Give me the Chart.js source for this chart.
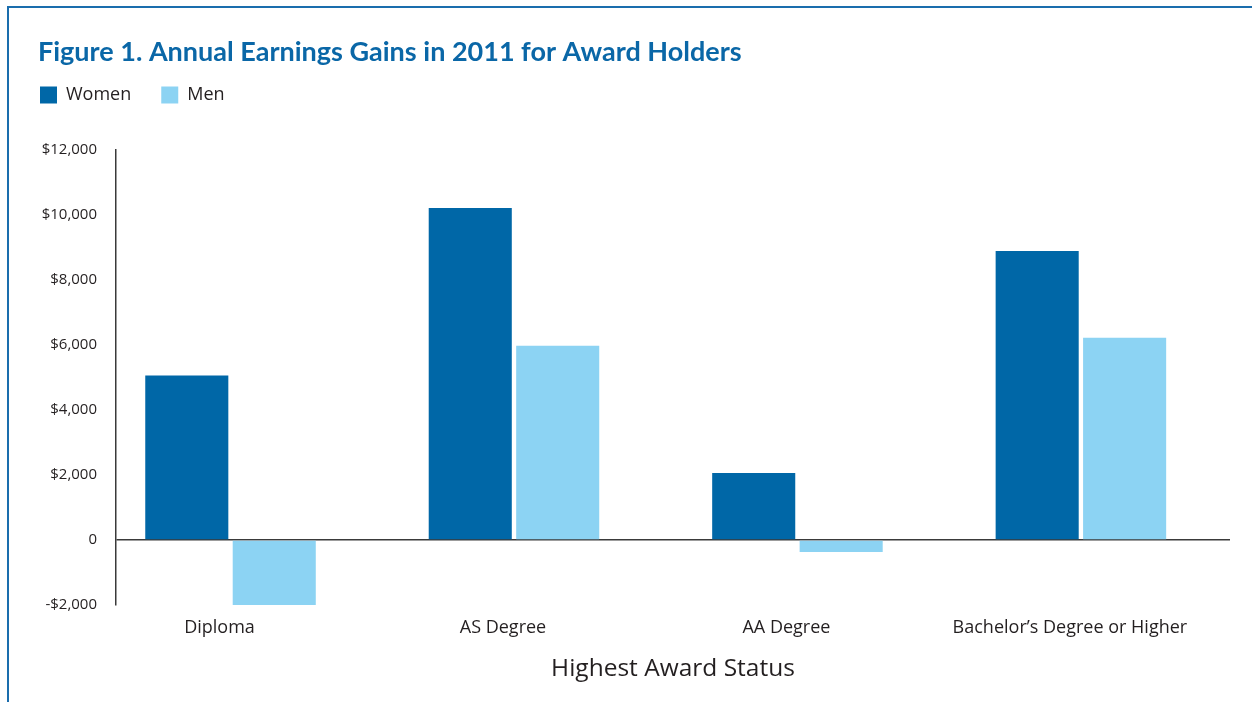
<!DOCTYPE html>
<html><head><meta charset="utf-8">
<script src="https://cdn.jsdelivr.net/npm/chart.js@4"></script>
<style>
html,body{margin:0;padding:0;background:#fff;}
#wrap{position:relative;width:1252px;height:702px;overflow:hidden;background:#fff;}
#frame{position:absolute;left:7px;top:6px;width:1300px;height:800px;border-top:2.5px solid #1a6dad;border-left:2.5px solid #1a6dad;}
canvas{position:absolute;left:0;top:0;}
</style></head><body>
<div id="wrap"><div id="frame"></div><canvas id="c" width="1252" height="702"></canvas></div>
<script>
const categories = ['Diploma', 'AS Degree', 'AA Degree', 'Bachelor\u2019s Degree or Higher'];
const women = [5050, 10200, 2060, 8880];
const men = [-2000, 5970, -370, 6210];
const yTickValues = [-2000, 0, 2000, 4000, 6000, 8000, 10000, 12000];
const yTickLabels = ['-$2,000', '0', '$2,000', '$4,000', '$6,000', '$8,000', '$10,000', '$12,000'];
const seriesNames = ['Women', 'Men'];

const textColor = '#231f20';
const legendPlace = {
  id: 'legendPlace',
  afterLayout(chart) {
    const lg = chart.legend;
    if (!lg) return;
    const w = lg.width, h = lg.height;
    lg.left = 10; lg.top = 56;
    lg.right = lg.left + w; lg.bottom = lg.top + h;
  }
};

new Chart(document.getElementById('c'), {
  type: 'bar',
  data: {
    datasets: [
      { label: seriesNames[0], data: women.map((v, i) => ({ x: i, y: v })), backgroundColor: '#0067a7', borderWidth: 0,
        categoryPercentage: 0.617, barPercentage: 0.95 },
      { label: seriesNames[1], data: men.map((v, i) => ({ x: i, y: v })), backgroundColor: '#8cd3f3', borderWidth: 0,
        categoryPercentage: 0.617, barPercentage: 0.95 }
    ]
  },
  options: {
    responsive: false,
    devicePixelRatio: 1,
    animation: false,
    layout: { padding: { top: 36, left: 38, right: 22, bottom: 0 } },
    plugins: {
      tooltip: { enabled: false },
      title: {
        display: true, text: 'Figure 1. Annual Earnings Gains in 2011 for Award Holders', align: 'start',
        color: '#0a67a7', font: { family: 'Lato', size: 27, weight: 'bold' }, padding: { top: 0, bottom: 0 }
      },
      legend: {
        position: 'top', align: 'start',
        labels: { boxWidth: 17, boxHeight: 17, padding: 30, color: textColor, font: { family: 'Open Sans', size: 18 } }
      }
    },
    scales: {
      x: {
        type: 'linear', min: -0.404, max: 3.526, offset: false,
        afterFit(s) { s.height = 97; },
        grid: { display: false, drawTicks: false, offset: false },
        border: { display: false },
        ticks: {
          stepSize: 1, includeBounds: false, autoSkip: false, maxRotation: 0, padding: 12, labelOffset: -11,
          color: textColor, font: { family: 'Open Sans', size: 18 },
          callback: (v) => Number.isInteger(v) && categories[v] !== undefined ? categories[v] : ''
        },
        title: { display: true, text: 'Highest Award Status', color: textColor,
          font: { family: 'Open Sans', size: 24.5 }, padding: { top: 0, bottom: 18 } }
      },
      y: {
        min: -2000, max: 12000,
        afterFit(s) { s.width = 78; },
        ticks: {
          stepSize: 2000, padding: 19, color: textColor, font: { family: 'Open Sans', size: 15 },
          callback: (v) => { const i = yTickValues.indexOf(v); return i >= 0 ? yTickLabels[i] : ''; }
        },
        grid: {
          drawTicks: false, lineWidth: 1.5,
          color: (c) => (c.tick && c.tick.value === 0) ? '#3a3a3a' : 'rgba(0,0,0,0)'
        },
        border: { display: true, color: '#3a3a3a', width: 1.5 }
      }
    }
  },
  plugins: [legendPlace, {
    id: 'legendFit',
    beforeInit(chart) {
      const lg = chart.legend;
      if (!lg) return;
      const orig = lg.fit;
      lg.fit = function () { orig.call(this); this.height = 81; };
    }
  }]
});
</script>
</body></html>
